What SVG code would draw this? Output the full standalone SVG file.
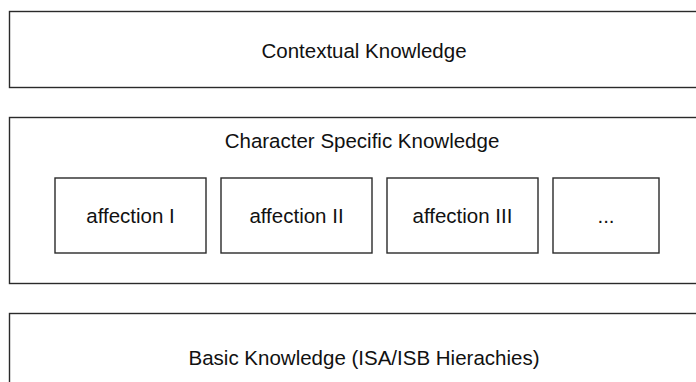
<svg xmlns="http://www.w3.org/2000/svg" width="696" height="382" viewBox="0 0 696 382">
  <style>
    .box { fill: #ffffff; stroke: #2a2a2a; stroke-width: 1.4; }
    .lbl { font-family: "Liberation Sans", Arial, sans-serif; font-size: 20.5px; fill: #111111; text-anchor: middle; }
  </style>
  <rect width="696" height="382" fill="#ffffff"/>

  <g id="contextual-knowledge">
    <rect class="box" x="9.5" y="11.5" width="720" height="76"/>
    <text class="lbl" x="364" y="57.5">Contextual Knowledge</text>
  </g>

  <g id="character-specific-knowledge">
    <rect class="box" x="9.5" y="117.5" width="720" height="166"/>
    <text class="lbl" x="362" y="148">Character Specific Knowledge</text>
  </g>

  <g id="affection-1">
    <rect class="box" x="55" y="178" width="151" height="75"/>
    <text class="lbl" x="130.5" y="222.5">affection I</text>
  </g>

  <g id="affection-2">
    <rect class="box" x="221" y="178" width="151" height="75"/>
    <text class="lbl" x="296.5" y="222.5">affection II</text>
  </g>

  <g id="affection-3">
    <rect class="box" x="387" y="178" width="151" height="75"/>
    <text class="lbl" x="462.5" y="222.5">affection III</text>
  </g>

  <g id="affection-more">
    <rect class="box" x="553" y="178" width="106" height="75"/>
    <text class="lbl" x="606" y="222.5">...</text>
  </g>

  <g id="basic-knowledge">
    <rect class="box" x="9.5" y="313.5" width="720" height="100"/>
    <text class="lbl" x="364" y="364.5">Basic Knowledge (ISA/ISB Hierachies)</text>
  </g>

  <g id="connectors"></g>
</svg>
